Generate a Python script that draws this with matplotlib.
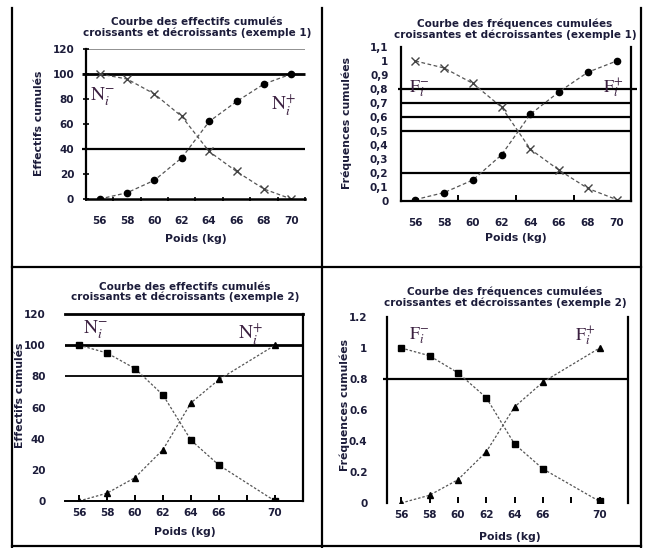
import matplotlib
matplotlib.use('Agg')
import matplotlib.pyplot as plt
from matplotlib.lines import Line2D

plt.rcParams['font.family'] = ['DejaVu Sans']
plt.rcParams['mathtext.fontset'] = 'stix'

W, H = 645, 548
fig = plt.figure(figsize=(W / 100, H / 100), dpi=100)

# ---------------- data ----------------
poids_ex1 = ['56', '58', '60', '62', '64', '66', '68', '70']
eff_crois_ex1 = [0, 5, 15, 33, 62, 78, 92, 100]
eff_decr_ex1 = [100, 96, 84, 66, 38, 22, 8, 0]
freq_crois_ex1 = [0.01, 0.06, 0.15, 0.33, 0.62, 0.78, 0.92, 1.0]
freq_decr_ex1 = [1.0, 0.95, 0.84, 0.67, 0.37, 0.22, 0.09, 0.01]

poids_ex2 = [56, 58, 60, 62, 64, 66, 70]
eff_crois_ex2 = [0, 5, 15, 33, 63, 78, 100]
eff_decr_ex2 = [100, 95, 85, 68, 39, 23, 0]
freq_crois_ex2 = [0.0, 0.05, 0.15, 0.33, 0.62, 0.78, 1.0]
freq_decr_ex2 = [1.0, 0.95, 0.84, 0.68, 0.38, 0.22, 0.01]
xticks_ex2 = [56, 58, 60, 62, 64, 66, 68, 70]
xticklabels_ex2 = ['56', '58', '60', '62', '64', '66', '', '70']

yticks_eff = [0, 20, 40, 60, 80, 100, 120]
yticks_freq1 = [0, 0.1, 0.2, 0.3, 0.4, 0.5, 0.6, 0.7, 0.8, 0.9, 1.0, 1.1]
yticklabels_freq1 = ['0', '0,1', '0,2', '0,3', '0,4', '0,5', '0,6', '0,7',
                     '0,8', '0,9', '1', '1,1']
yticks_freq2 = [0, 0.2, 0.4, 0.6, 0.8, 1.0, 1.2]
yticklabels_freq2 = ['0', '0.2', '0.4', '0.6', '0.8', '1', '1.2']

hlines_p1 = [100, 40]
hlines_p2 = [0.8, 0.7, 0.6, 0.5, 0.2]
hlines_p3 = [100, 80]
hlines_p4 = [0.8]

title_eff1 = 'Courbe des effectifs cumulés\ncroissants et décroissants (exemple 1)'
title_freq1 = 'Courbe des fréquences cumulées\ncroissantes et décroissantes (exemple 1)'
title_eff2 = 'Courbe des effectifs cumulés\ncroissants et décroissants (exemple 2)'
title_freq2 = 'Courbe des fréquences cumulées\ncroissantes et décroissantes (exemple 2)'
ylab_eff = 'Effectifs cumulés'
ylab_freq = 'Fréquences cumulées'
xlab = 'Poids (kg)'

TXT = '#1c1c3a'
ANN = '#3b2040'
FS_T = 7.5
FS_TICK = 7.5
FS_LAB = 7.8


def add_ax(x0, y0, x1, y1):
    return fig.add_axes([x0 / W, 1 - y1 / H, (x1 - x0) / W, (y1 - y0) / H])


def fig_line(x0, y0, x1, y1, lw=1.6):
    fig.add_artist(Line2D([x0 / W, x1 / W], [1 - y0 / H, 1 - y1 / H],
                          transform=fig.transFigure, color='black', lw=lw))


def fig_text(x, y, s, **kw):
    fig.text(x / W, 1 - y / H, s, **kw)


def style_common(ax):
    ax.set_facecolor('none')
    for sp in ax.spines.values():
        sp.set_color('black')
    ax.tick_params(labelsize=FS_TICK, colors='black', labelcolor=TXT)
    for lab in ax.get_xticklabels() + ax.get_yticklabels():
        lab.set_fontweight('bold')


# ---------------- frame lines ----------------
fig_line(12, 8, 12, 547)
fig_line(322, 8, 322, 547)
fig_line(641, 8, 641, 547)
fig_line(12, 267, 641, 267)
fig_line(12, 546, 641, 546)

line_kw = dict(color='#555555', lw=0.9, linestyle=(0, (3, 2)))

# ---------------- panel 1 ----------------
ax1 = add_ax(86, 49, 305, 199)
x1 = range(len(poids_ex1))
ax1.plot(x1, eff_decr_ex1, marker='x', ms=6, mec='#444444', mew=1.0, **line_kw)
ax1.plot(x1, eff_crois_ex1, marker='o', ms=4.5, mfc='black', mec='black', **line_kw)
for y, lw in zip(hlines_p1, [2.0, 1.6]):
    ax1.hlines(y, -0.65, len(poids_ex1) - 0.5, color='black', lw=lw,
               zorder=0, clip_on=False)
ax1.axhline(120, color='#888888', lw=1.3, zorder=0)
ax1.set_xlim(-0.5, len(poids_ex1) - 0.5)
ax1.set_ylim(0, 120)
ax1.set_yticks(yticks_eff)
ax1.set_xticks(list(x1))
ax1.set_xticklabels(poids_ex1)
ax1.set_xticks([i - 0.5 for i in range(len(poids_ex1) + 1)], minor=True)
ax1.tick_params(axis='x', which='major', length=0, pad=12)
ax1.tick_params(axis='x', which='minor', length=3, direction='inout', width=1.2)
ax1.tick_params(axis='y', length=5, direction='inout', width=1.2, pad=6)
for s in ['top', 'right']:
    ax1.spines[s].set_visible(False)
ax1.spines['left'].set_linewidth(1.6)
ax1.spines['bottom'].set_linewidth(1.8)
style_common(ax1)
fig_text(197, 27.5, title_eff1, ha='center', va='center', fontsize=FS_T,
         fontweight='bold', color=TXT, linespacing=1.05)
fig_text(39, 123, ylab_eff, ha='center', va='center', rotation=90,
         fontsize=FS_LAB, fontweight='bold', color=TXT)
fig_text(196, 239, xlab, ha='center', va='center', fontsize=FS_LAB,
         fontweight='bold', color=TXT)
fig_text(102, 97, r'$\mathrm{N}_{i}^{-}$', ha='center', va='center',
         fontsize=14, color=ANN)
fig_text(284, 104, r'$\mathrm{N}_{i}^{+}$', ha='center', va='center',
         fontsize=14, color=ANN)

# ---------------- panel 2 ----------------
ax2 = add_ax(401, 47, 631, 201)
x2 = range(len(poids_ex1))
ax2.plot(x2, freq_decr_ex1, marker='x', ms=6, mec='#444444', mew=1.0, **line_kw)
ax2.plot(x2, freq_crois_ex1, marker='o', ms=4.5, mfc='black', mec='black', **line_kw)
for i, y in enumerate(hlines_p2):
    if i == 0:
        ax2.hlines(y, -0.6, len(poids_ex1) - 0.3, color='black', lw=1.6,
                   zorder=0, clip_on=False)
    else:
        ax2.axhline(y, color='black', lw=1.6, zorder=0)
ax2.set_xlim(-0.5, len(poids_ex1) - 0.5)
ax2.set_ylim(0, 1.1)
ax2.set_yticks(yticks_freq1)
ax2.set_yticklabels(yticklabels_freq1)
ax2.set_xticks(list(x2))
ax2.set_xticklabels(poids_ex1)
ax2.set_xticks([i - 0.5 for i in range(2, len(poids_ex1), 2)], minor=True)
ax2.tick_params(axis='x', which='major', length=0, pad=12)
ax2.tick_params(axis='x', which='minor', length=4, direction='in', width=1.4)
ax2.tick_params(axis='y', length=0, pad=9)
ax2.spines['top'].set_visible(False)
for s in ['left', 'right', 'bottom']:
    ax2.spines[s].set_linewidth(1.6)
style_common(ax2)
fig_text(515, 29, title_freq1, ha='center', va='center', fontsize=FS_T,
         fontweight='bold', color=TXT, linespacing=1.05)
fig_text(347, 123, ylab_freq, ha='center', va='center', rotation=90,
         fontsize=FS_LAB, fontweight='bold', color=TXT)
fig_text(516, 238, xlab, ha='center', va='center', fontsize=FS_LAB,
         fontweight='bold', color=TXT)
fig_text(419, 89, r'$\mathrm{F}_{i}^{-}$', ha='center', va='center',
         fontsize=13, color=ANN)
fig_text(613, 88, r'$\mathrm{F}_{i}^{+}$', ha='center', va='center',
         fontsize=13, color=ANN)

# ---------------- panel 3 ----------------
ax3 = add_ax(65, 314, 303, 501)
line_kw2 = dict(color='#555555', lw=0.9, linestyle=(0, (2, 1.5)))
ax3.plot(poids_ex2, eff_decr_ex2, marker='s', ms=4.5, mfc='black', mec='black', **line_kw2)
ax3.plot(poids_ex2, eff_crois_ex2, marker='^', ms=4.5, mfc='black', mec='black', **line_kw2)
for y, lw in zip(hlines_p3, [2.0, 1.3]):
    ax3.axhline(y, color='black', lw=lw, zorder=0)
ax3.set_xlim(55, 72)
ax3.set_ylim(0, 120)
ax3.set_yticks(yticks_eff)
ax3.set_xticks(xticks_ex2)
ax3.set_xticklabels(xticklabels_ex2)
ax3.tick_params(axis='x', length=4, direction='in', width=1.4, pad=5)
ax3.tick_params(axis='y', length=0, pad=14)
ax3.spines['left'].set_visible(False)
ax3.spines['top'].set_linewidth(2.0)
ax3.spines['right'].set_linewidth(1.6)
ax3.spines['bottom'].set_linewidth(1.4)
style_common(ax3)
fig_text(185, 292, title_eff2, ha='center', va='center', fontsize=FS_T,
         fontweight='bold', color=TXT, linespacing=1.05)
fig_text(20, 395, ylab_eff, ha='center', va='center', rotation=90,
         fontsize=FS_LAB, fontweight='bold', color=TXT)
fig_text(185, 532, xlab, ha='center', va='center', fontsize=FS_LAB,
         fontweight='bold', color=TXT)
fig_text(95, 330, r'$\mathrm{N}_{i}^{-}$', ha='center', va='center',
         fontsize=14, color=ANN)
fig_text(251, 333, r'$\mathrm{N}_{i}^{+}$', ha='center', va='center',
         fontsize=14, color=ANN)

# ---------------- panel 4 ----------------
ax4 = add_ax(387, 317, 628, 503)
ax4.plot(poids_ex2, freq_decr_ex2, marker='s', ms=4.5, mfc='black', mec='black', **line_kw2)
ax4.plot(poids_ex2, freq_crois_ex2, marker='^', ms=5, mfc='black', mec='black', **line_kw2)
for y in hlines_p4:
    ax4.hlines(y, 54.7, 72, color='black', lw=1.6, zorder=0, clip_on=False)
ax4.set_xlim(55, 72)
ax4.set_ylim(0, 1.2)
ax4.set_yticks(yticks_freq2)
ax4.set_yticklabels(yticklabels_freq2)
ax4.set_xticks(xticks_ex2)
ax4.set_xticklabels(xticklabels_ex2)
ax4.tick_params(axis='x', length=4, direction='in', width=1.4, pad=5)
ax4.tick_params(axis='y', length=0, pad=14)
ax4.spines['top'].set_visible(False)
ax4.spines['bottom'].set_visible(False)
ax4.spines['left'].set_linewidth(1.6)
ax4.spines['right'].set_linewidth(1.6)
style_common(ax4)
fig_text(505, 297, title_freq2, ha='center', va='center', fontsize=FS_T,
         fontweight='bold', color=TXT, linespacing=1.05)
fig_text(345, 405, ylab_freq, ha='center', va='center', rotation=90,
         fontsize=FS_LAB, fontweight='bold', color=TXT)
fig_text(510, 537, xlab, ha='center', va='center', fontsize=FS_LAB,
         fontweight='bold', color=TXT)
fig_text(419, 336, r'$\mathrm{F}_{i}^{-}$', ha='center', va='center',
         fontsize=13, color=ANN)
fig_text(585, 336, r'$\mathrm{F}_{i}^{+}$', ha='center', va='center',
         fontsize=13, color=ANN)

fig.savefig('out.png', dpi=100)
